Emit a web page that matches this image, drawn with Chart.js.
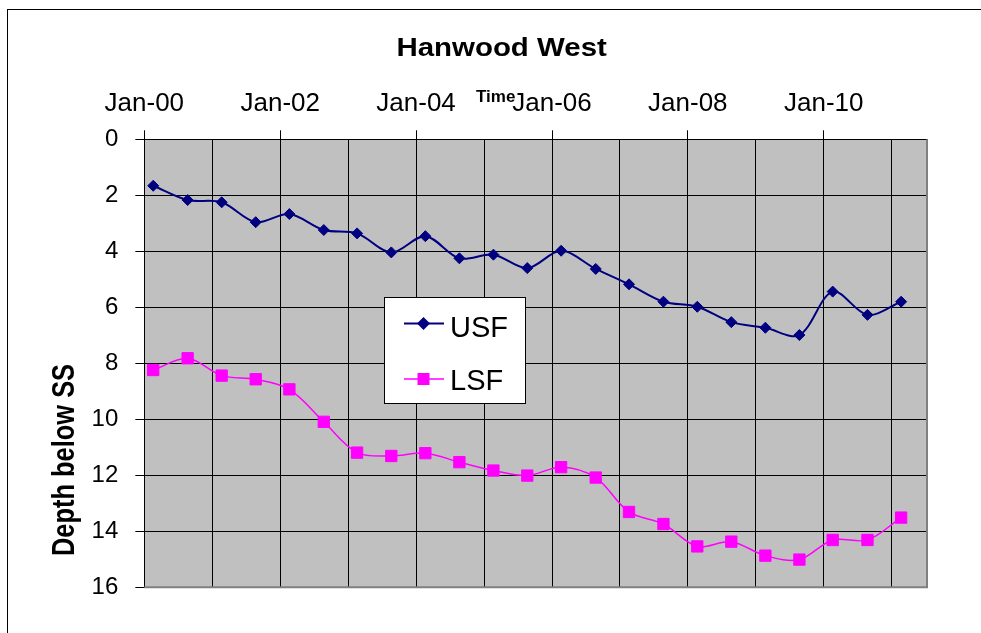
<!DOCTYPE html>
<html>
<head>
<meta charset="utf-8">
<script src="https://cdn.jsdelivr.net/npm/chart.js@4/dist/chart.umd.min.js"></script>
<style>
  body { margin: 0; background: #fff; }
  #wrap { width: 981px; height: 633px; position: relative; }
</style>
</head>
<body>
<div id="wrap"><canvas id="depthChart"></canvas></div>
<script>
// sampling dates (roughly Feb / Aug each year)
const sampleDates = ['2000-02-18','2000-08-21','2001-02-20','2001-08-22','2002-02-19','2002-08-23',
  '2003-02-18','2003-08-21','2004-02-20','2004-08-21','2005-02-20','2005-08-21','2006-02-19',
  '2006-08-24','2007-02-19','2007-08-23','2008-02-21','2008-08-22','2009-02-21','2009-08-23',
  '2010-02-18','2010-08-24','2011-02-21'];
const usfDepth = [1.66, 2.17, 2.25, 2.96, 2.67, 3.24, 3.36, 4.04, 3.46, 4.25, 4.12, 4.60,
  3.98, 4.63, 5.18, 5.80, 5.98, 6.53, 6.73, 6.99, 5.44, 6.27, 5.80];
const lsfDepth = [8.24, 7.82, 8.44, 8.57, 8.93, 10.09, 11.19, 11.31, 11.21, 11.53, 11.83, 12.01,
  11.71, 12.08, 13.31, 13.74, 14.54, 14.37, 14.87, 15.01, 14.31, 14.31, 13.51];

const yearStarts = ['2000-01-01','2001-01-01','2002-01-01','2003-01-01','2004-01-01','2005-01-01',
  '2006-01-01','2007-01-01','2008-01-01','2009-01-01','2010-01-01','2011-01-01'];
const xTickLabels = ['Jan-00','','Jan-02','','Jan-04','','Jan-06','','Jan-08','','Jan-10',''];
const yTicks = [0, 2, 4, 6, 8, 10, 12, 14, 16];
const axisEnd = '2011-07-10';

const FONT = '"Liberation Sans", Arial, sans-serif';

// days since 1 Jan 2000
function dayNum(s) {
    const p = s.split('-');
    return (Date.UTC(+p[0], +p[1] - 1, +p[2]) - Date.UTC(2000, 0, 1)) / 86400000;
}

const usfPoints = sampleDates.map((d, i) => ({ x: dayNum(d), y: usfDepth[i] }));
const lsfPoints = sampleDates.map((d, i) => ({ x: dayNum(d), y: lsfDepth[i] }));

// plot background, frame, titles and the boxed legend
const decorPlugin = {
    id: 'decor',
    beforeDraw(chart) {
        const ctx = chart.ctx, a = chart.chartArea;
        ctx.save();
        ctx.fillStyle = '#c0c0c0';
        ctx.fillRect(a.left, a.top, a.right - a.left, a.bottom - a.top);
        // outer chart frame
        ctx.strokeStyle = '#000';
        ctx.lineWidth = 1;
        ctx.strokeRect(7.5, 9.5, 1100, 800);
        ctx.restore();
    },
    beforeDatasetsDraw(chart) {
        const ctx = chart.ctx, a = chart.chartArea;
        ctx.save();
        ctx.strokeStyle = '#808080';
        ctx.lineWidth = 2;
        ctx.beginPath();
        ctx.moveTo(a.right, a.top);
        ctx.lineTo(a.right, a.bottom);
        ctx.lineTo(a.left, a.bottom);
        ctx.stroke();
        ctx.restore();
    },
    afterDraw(chart) {
        const ctx = chart.ctx;
        ctx.save();
        ctx.fillStyle = '#000';

        // chart title
        ctx.font = 'bold 25.6px ' + FONT;
        ctx.textAlign = 'center';
        ctx.textBaseline = 'alphabetic';
        ctx.save();
        ctx.translate(501.6, 56);
        ctx.scale(1.15, 1);
        ctx.fillText('Hanwood West', 0, 0);
        ctx.restore();

        // small x axis title
        ctx.font = 'bold 17px ' + FONT;
        ctx.textAlign = 'left';
        ctx.fillText('Time', 476, 101.7);

        // y axis title
        ctx.save();
        ctx.translate(74, 460);
        ctx.rotate(-Math.PI / 2);
        ctx.scale(0.82, 1);
        ctx.font = 'bold 31px ' + FONT;
        ctx.textAlign = 'center';
        ctx.fillText('Depth below SS', 0, 0);
        ctx.restore();

        // legend box
        ctx.fillStyle = '#fff';
        ctx.fillRect(384.5, 297, 141, 106);
        ctx.strokeStyle = '#000';
        ctx.lineWidth = 1;
        ctx.strokeRect(384.5, 297.5, 141, 106);

        // USF entry
        ctx.strokeStyle = '#000080';
        ctx.fillStyle = '#000080';
        ctx.lineWidth = 2;
        ctx.beginPath();
        ctx.moveTo(404, 323.5);
        ctx.lineTo(444, 323.5);
        ctx.stroke();
        ctx.beginPath();
        ctx.moveTo(423.5, 317);
        ctx.lineTo(430, 323.5);
        ctx.lineTo(423.5, 330);
        ctx.lineTo(417, 323.5);
        ctx.closePath();
        ctx.fill();

        // LSF entry
        ctx.strokeStyle = '#ff00ff';
        ctx.fillStyle = '#ff00ff';
        ctx.lineWidth = 1.5;
        ctx.beginPath();
        ctx.moveTo(404, 379);
        ctx.lineTo(444, 379);
        ctx.stroke();
        ctx.fillRect(417.5, 373, 12, 12);

        ctx.fillStyle = '#000';
        ctx.font = '29px ' + FONT;
        ctx.textAlign = 'left';
        ctx.fillText('USF', 450, 336.7);
        ctx.fillText('LSF', 450, 390);
        ctx.restore();
    }
};

new Chart(document.getElementById('depthChart'), {
    type: 'line',
    data: {
        datasets: [
            {
                label: 'USF',
                data: usfPoints,
                borderColor: '#000080',
                backgroundColor: '#000080',
                borderWidth: 2,
                pointStyle: 'rectRot',
                pointRadius: 5.5,
                pointBorderWidth: 1,
                tension: 0.33,
                fill: false,
            },
            {
                label: 'LSF',
                data: lsfPoints,
                borderColor: '#ff00ff',
                backgroundColor: '#ff00ff',
                borderWidth: 1.5,
                pointStyle: 'rect',
                pointRadius: 8,
                pointBorderWidth: 1,
                tension: 0.33,
                fill: false,
            },
        ],
    },
    options: {
        responsive: true,
        maintainAspectRatio: false,
        animation: false,
        layout: {
            padding: { left: 84, top: 60, right: 54, bottom: 45.7 },
        },
        scales: {
            x: {
                type: 'linear',
                position: 'top',
                min: 0,
                max: dayNum(axisEnd),
                afterBuildTicks: axis => {
                    axis.ticks = yearStarts.map(s => ({ value: dayNum(s) }));
                },
                afterFit: scale => { scale.height = 79.3; },
                ticks: {
                    autoSkip: false,
                    maxRotation: 0,
                    minRotation: 0,
                    padding: 11,
                    color: '#000',
                    font: { family: FONT, size: 26 },
                    callback: (value, index) => xTickLabels[index],
                },
                grid: {
                    color: '#000',
                    lineWidth: 1,
                    tickLength: 9,
                    // tick marks only where a label is shown
                    tickColor: c => (xTickLabels[c.index] ? '#000' : 'rgba(0,0,0,0)'),
                },
                border: { color: '#000', width: 1 },
            },
            y: {
                type: 'linear',
                reverse: true,
                min: 0,
                max: 16,
                afterBuildTicks: axis => {
                    axis.ticks = yTicks.map(v => ({ value: v }));
                },
                afterFit: scale => { scale.width = 60.3; },
                ticks: {
                    padding: 17,
                    color: '#000',
                    font: { family: FONT, size: 24 },
                },
                grid: {
                    color: '#000',
                    lineWidth: 1,
                    tickLength: 9,
                    tickColor: '#000',
                },
                border: { color: '#000', width: 1 },
            },
        },
        plugins: {
            legend: { display: false },
            title: { display: false },
            tooltip: { enabled: false },
        },
    },
    plugins: [decorPlugin],
});
</script>
</body>
</html>
